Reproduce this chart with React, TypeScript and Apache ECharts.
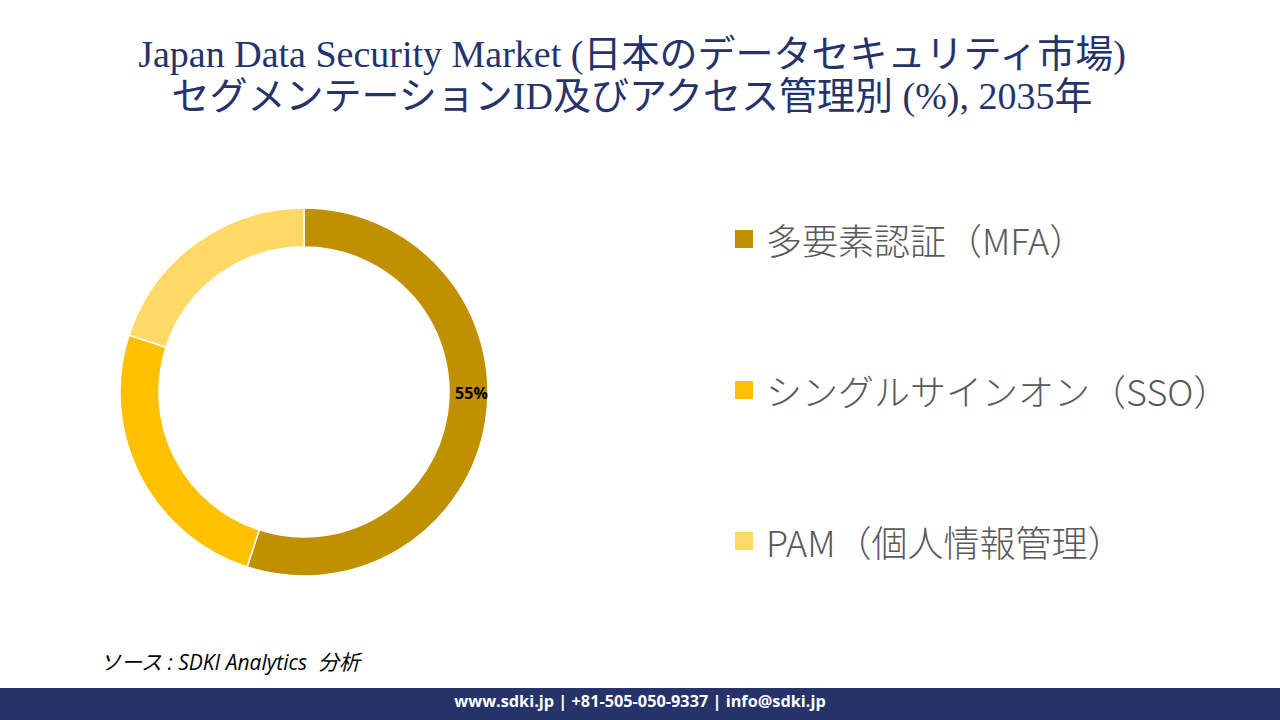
import React, { useEffect, useRef } from "react";
import * as echarts from "echarts";

const categories = ["多要素認証（MFA）", "シングルサインオン（SSO）", "PAM（個人情報管理）"];
const values = [55, 25, 20];
const colors = ["#BF9000", "#FFC000", "#FFD966"];
const labelledIndex = [0];
const titleLines = [
  "Japan Data Security Market (日本のデータセキュリティ市場)",
  "セグメンテーションID及びアクセス管理別 (%), 2035年",
];
const sourceText = "ソース : SDKI Analytics  分析";
const footerText = "www.sdki.jp | +81-505-050-9337 | info@sdki.jp";

export default function App() {
  const ref = useRef<HTMLDivElement>(null);
  useEffect(() => {
    document.body.style.margin = "0";
    const chart = echarts.init(ref.current!, null, { renderer: "svg" });
    chart.setOption({
      animation: false,
      backgroundColor: "#ffffff",
      title: {
        text: titleLines.join("\n"),
        left: 632,
        textAlign: "center",
        top: 33,
        padding: 0,
        textStyle: {
          fontFamily: "'Liberation Serif', 'Noto Sans CJK JP', serif",
          fontSize: 38,
          fontWeight: "normal",
          color: "#26336B",
          lineHeight: 42,
        },
      },
      legend: {
        orient: "vertical",
        left: 733,
        top: 221,
        padding: 0,
        icon: "rect",
        itemWidth: 20,
        itemHeight: 20,
        itemGap: 115,
        selectedMode: false,
        textStyle: {
          fontFamily: "'Noto Sans CJK JP', 'Open Sans', sans-serif",
          fontSize: 36,
          fontWeight: 300,
          lineHeight: 36,
          color: "#595959",
          padding: [0, 0, 0, 7],
        },
        data: categories,
      },
      graphic: [
        {
          type: "text",
          left: 100,
          top: 651,
          style: {
            text: sourceText,
            font: "italic 21px 'Open Sans', 'Noto Sans CJK JP', sans-serif",
            fill: "#000000",
          },
        },
        {
          type: "rect",
          left: 0,
          top: 688,
          shape: { width: 1280, height: 32 },
          style: { fill: "#26336B" },
        },
        {
          type: "text",
          left: "center",
          top: 693,
          style: {
            text: footerText,
            font: "bold 16.3px 'Open Sans', sans-serif",
            fill: "#ffffff",
          },
        },
      ],
      series: [
        {
          type: "pie",
          center: [304, 392],
          radius: [145, 184],
          startAngle: 90,
          clockwise: true,
          itemStyle: { borderColor: "#ffffff", borderWidth: 1.5 },
          label: {
            show: true,
            position: "inside",
            fontFamily: "'Open Sans', sans-serif",
            fontWeight: "bold",
            fontSize: 16,
            color: "#000000",
            formatter: (p: any) => (labelledIndex.includes(p.dataIndex) ? `${p.value}%` : ""),
          },
          labelLayout: { dy: -25, dx: 2 },
          labelLine: { show: false },
          emphasis: { disabled: true },
          data: categories.map((name, i) => ({
            name,
            value: values[i],
            itemStyle: { color: colors[i] },
          })),
        },
      ],
    });
    return () => chart.dispose();
  }, []);
  return <div ref={ref} style={{ position: "absolute", left: 0, top: 0, width: 1280, height: 720 }} />;
}
